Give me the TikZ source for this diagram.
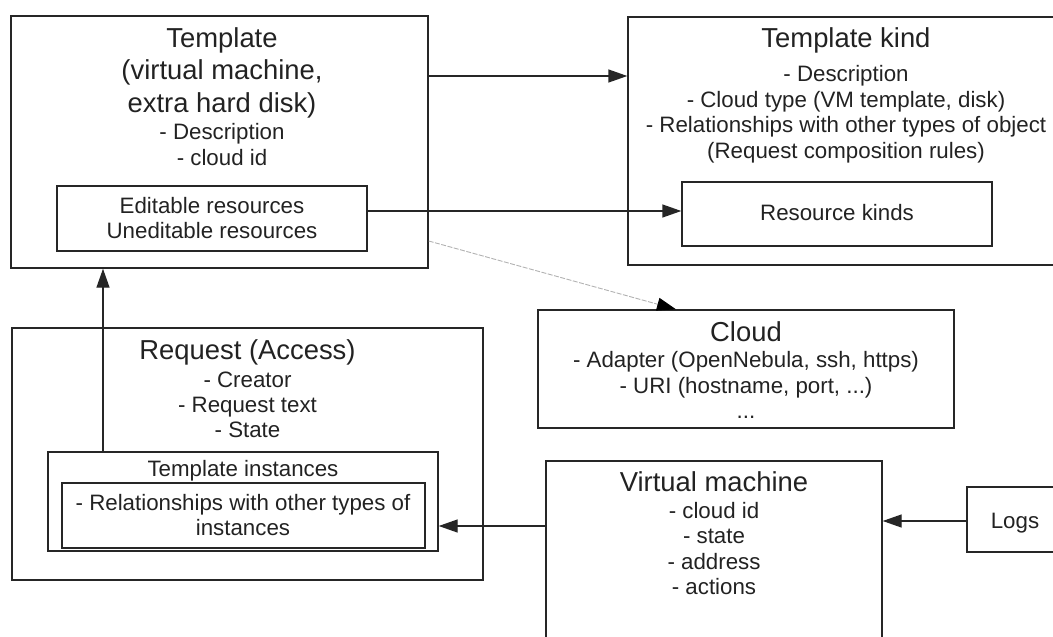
\documentclass[tikz,border=0pt]{standalone}
\usepackage{fontspec}
\setmainfont{Liberation Sans}
\usetikzlibrary{arrows.meta}
\definecolor{ink}{HTML}{262626}
\definecolor{txt}{HTML}{222222}
\begin{document}
\begin{tikzpicture}[x=1pt,y=-1pt,
  box/.style={draw=ink,line width=1.4pt,inner sep=0pt},
  ttl/.style={font=\fontsize{27.4}{31}\selectfont,text=txt,anchor=base,inner sep=0pt},
  body/.style={font=\fontsize{22.3}{25.5}\selectfont,text=txt,anchor=base,inner sep=0pt},
  link/.style={draw=ink,line width=1.4pt,-{Triangle[length=19pt,width=13pt]}},
  faint/.style={draw=black!30,line width=0.9pt,dash pattern=on 5pt off 1.5pt,
    -{Triangle[length=19pt,width=13pt,color=black]}}]
\useasboundingbox (0,0) rectangle (1053,637);
\clip (0,0) rectangle (1053,637);

% boxes
\node[box,minimum width=417,minimum height=252] (tpl) at (219.5,142) {};
\node[box,minimum width=310,minimum height=65] (edit) at (212,218.5) {};
\node[box,minimum width=436,minimum height=248] (tk) at (846,141) {};
\node[box,minimum width=310,minimum height=64] (rk) at (837,214) {};
\node[box,minimum width=416,minimum height=118] (cloud) at (746,369) {};
\node[box,minimum width=471,minimum height=252] (req) at (247.5,454) {};
\node[box,minimum width=390,minimum height=99] (ti) at (243,501.5) {};
\node[box,minimum width=363,minimum height=65] (rel) at (243.5,515.5) {};
\node[box,minimum width=336,minimum height=220] (vm) at (714,571) {};
\node[box,minimum width=96,minimum height=65] (logs) at (1015,519.5) {};

% Template
\foreach \s [count=\i] in {{Template},{(virtual machine,},{extra hard disk)}}
  \node[ttl,name=tplt\i] at (222,{47+32.5*(\i-1)}) {\s};
\foreach \s [count=\i] in {{- Description},{- cloud id}}
  \node[body,name=tplb\i] at (222,{139+26*(\i-1)}) {\s};
\foreach \s [count=\i] in {{Editable resources},{Uneditable resources}}
  \node[body,name=editb\i] at (212,{213+25*(\i-1)}) {\s};

% Template kind
\node[ttl,name=tkt] at (846,47) {Template kind};
\foreach \s [count=\i] in {{- Description},{- Cloud type (VM template, disk)},
    {- Relationships with other types of object},{(Request composition rules)}}
  \node[body,name=tkb\i] at (846,{81.5+25.5*(\i-1)}) {\s};
\node[body,name=rkb] at (837,220) {Resource kinds};

% Cloud
\node[ttl,name=cloudt] at (746,341) {Cloud};
\node[body,name=cloudb1] at (746,367.5) {- Adapter (OpenNebula, ssh, https)};
\node[body,name=cloudb2] at (746,393) {- URI (hostname, port, ...)};
\node[body,name=cloudb3] at (746,418.5) {...};

% Request
\node[ttl,name=reqt] at (247.5,359) {Request (Access)};
\foreach \s [count=\i] in {{- Creator},{- Request text},{- State}}
  \node[body,name=reqb\i] at (247.5,{387+25*(\i-1)}) {\s};
\node[body,name=tib] at (243,476) {Template instances};
\foreach \s [count=\i] in {{- Relationships with other types of},{instances}}
  \node[body,name=relb\i] at (243,{510+25*(\i-1)}) {\s};

% Virtual machine
\node[ttl,name=vmt] at (714,491) {Virtual machine};
\foreach \s [count=\i] in {{- cloud id},{- state},{- address},{- actions}}
  \node[body,name=vmb\i] at (714,{518+25.5*(\i-1)}) {\s};
\node[body,name=logsb] at (1015,528) {Logs};

% connectors
\draw[link] (tpl.east |- 0,76) -- (tk.west |- 0,76);
\draw[link] (edit.east |- 0,211) -- (rk.west |- 0,211);
\draw[faint] (tpl.east |- 0,241) -- (cloud.north -| 676,0);
\draw[link] (ti.north -| 103,0) -- (tpl.south -| 103,0);
\draw[link] (vm.west |- 0,526) -- (ti.east |- 0,526);
\draw[link] (logs.west |- 0,521) -- (vm.east |- 0,521);
\end{tikzpicture}
\end{document}
